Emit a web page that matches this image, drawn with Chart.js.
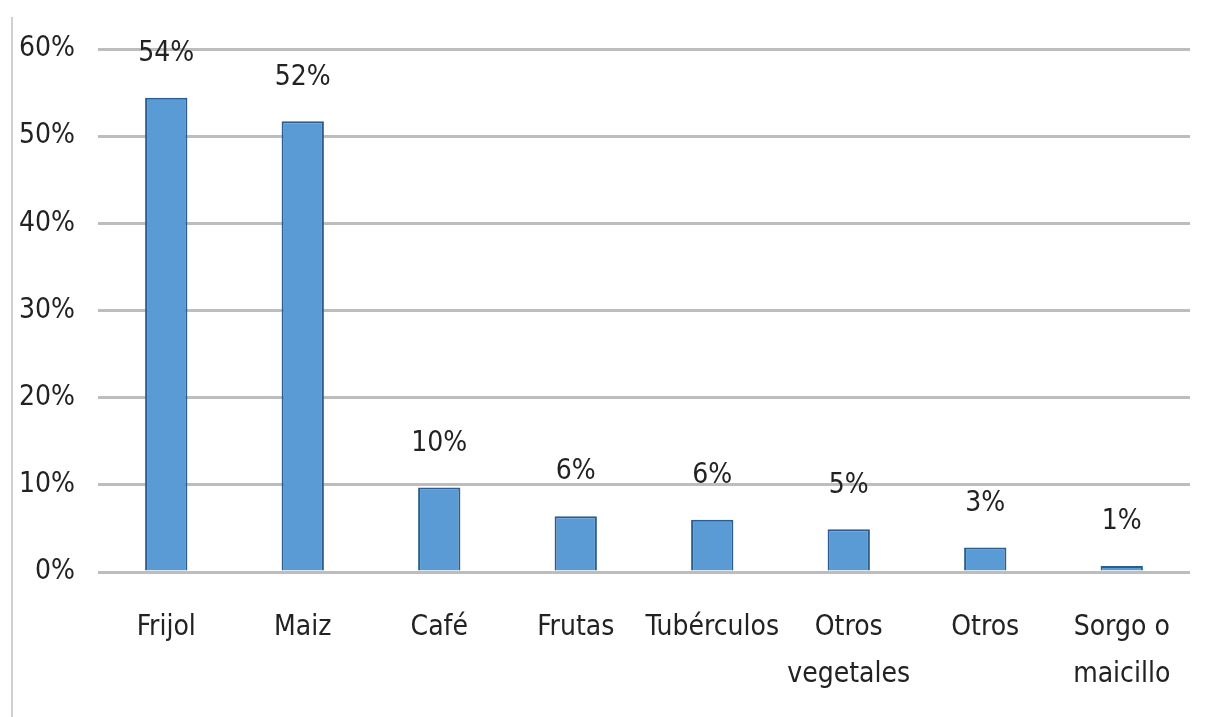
<!DOCTYPE html>
<html lang="es">
<head>
    <meta charset="UTF-8">
    <title>Cultivos</title>
    <script src="https://cdn.jsdelivr.net/npm/chart.js"></script>
    <style>
        body {
            margin: 0;
            background: #ffffff;
        }
        .wrap {
            position: relative;
            width: 1209px;
            height: 717px;
        }
        .edge {
            position: absolute;
            left: 11px;
            top: 17px;
            bottom: 0;
            border-left: 2px solid #cfcfcf;
        }
    </style>
</head>
<body>
    <div class="wrap">
        <div class="edge"></div>
        <canvas id="cropChart" width="1209" height="717"></canvas>
    </div>

    <script>
        const categories = ['Frijol', 'Maiz', 'Café', 'Frutas', 'Tubérculos', ['Otros', 'vegetales'], 'Otros', ['Sorgo o', 'maicillo']];
        const shares = [54.4, 51.7, 9.7, 6.4, 6.0, 4.9, 2.8, 0.7];
        const shareLabels = ['54%', '52%', '10%', '6%', '6%', '5%', '3%', '1%'];

        const fontFamily = "'Liberation Sans Narrow', 'DejaVu Sans Condensed', sans-serif";

        // value labels over each bar
        const barLabels = {
            id: 'barLabels',
            afterDatasetsDraw(chart) {
                const ctx = chart.ctx;
                const meta = chart.getDatasetMeta(0);
                ctx.save();
                ctx.font = '28px ' + fontFamily;
                ctx.fillStyle = '#222222';
                ctx.textAlign = 'center';
                ctx.textBaseline = 'middle';
                meta.data.forEach((bar, i) => {
                    ctx.fillText(shareLabels[i], bar.x, bar.y - 44);
                });
                ctx.restore();
            }
        };

        new Chart(document.getElementById('cropChart'), {
            type: 'bar',
            data: {
                labels: categories,
                datasets: [{
                    data: shares,
                    backgroundColor: '#5b9bd5',
                    borderColor: '#2c5d8f',
                    borderWidth: 2,
                    barPercentage: 0.31,
                    categoryPercentage: 1
                }]
            },
            options: {
                responsive: false,
                animation: false,
                layout: { padding: { top: 49, right: 19, bottom: 0, left: 0 } },
                plugins: {
                    legend: { display: false },
                    tooltip: { enabled: false }
                },
                scales: {
                    x: {
                        afterFit(scale) { scale.height = 145; },
                        grid: { display: false, drawTicks: false },
                        border: { display: false },
                        ticks: {
                            color: '#222222',
                            padding: 33,
                            maxRotation: 0,
                            autoSkip: false,
                            font: { family: fontFamily, size: 28, lineHeight: 1.65 }
                        }
                    },
                    y: {
                        min: 0,
                        max: 60,
                        afterFit(scale) { scale.width = 98; },
                        grid: { color: '#bdbdbd', lineWidth: 3, drawTicks: false },
                        border: { display: false },
                        ticks: {
                            stepSize: 10,
                            color: '#222222',
                            padding: 23,
                            font: { family: fontFamily, size: 28 },
                            callback: v => v + '%'
                        }
                    }
                }
            },
            plugins: [barLabels]
        });
    </script>
</body>
</html>
